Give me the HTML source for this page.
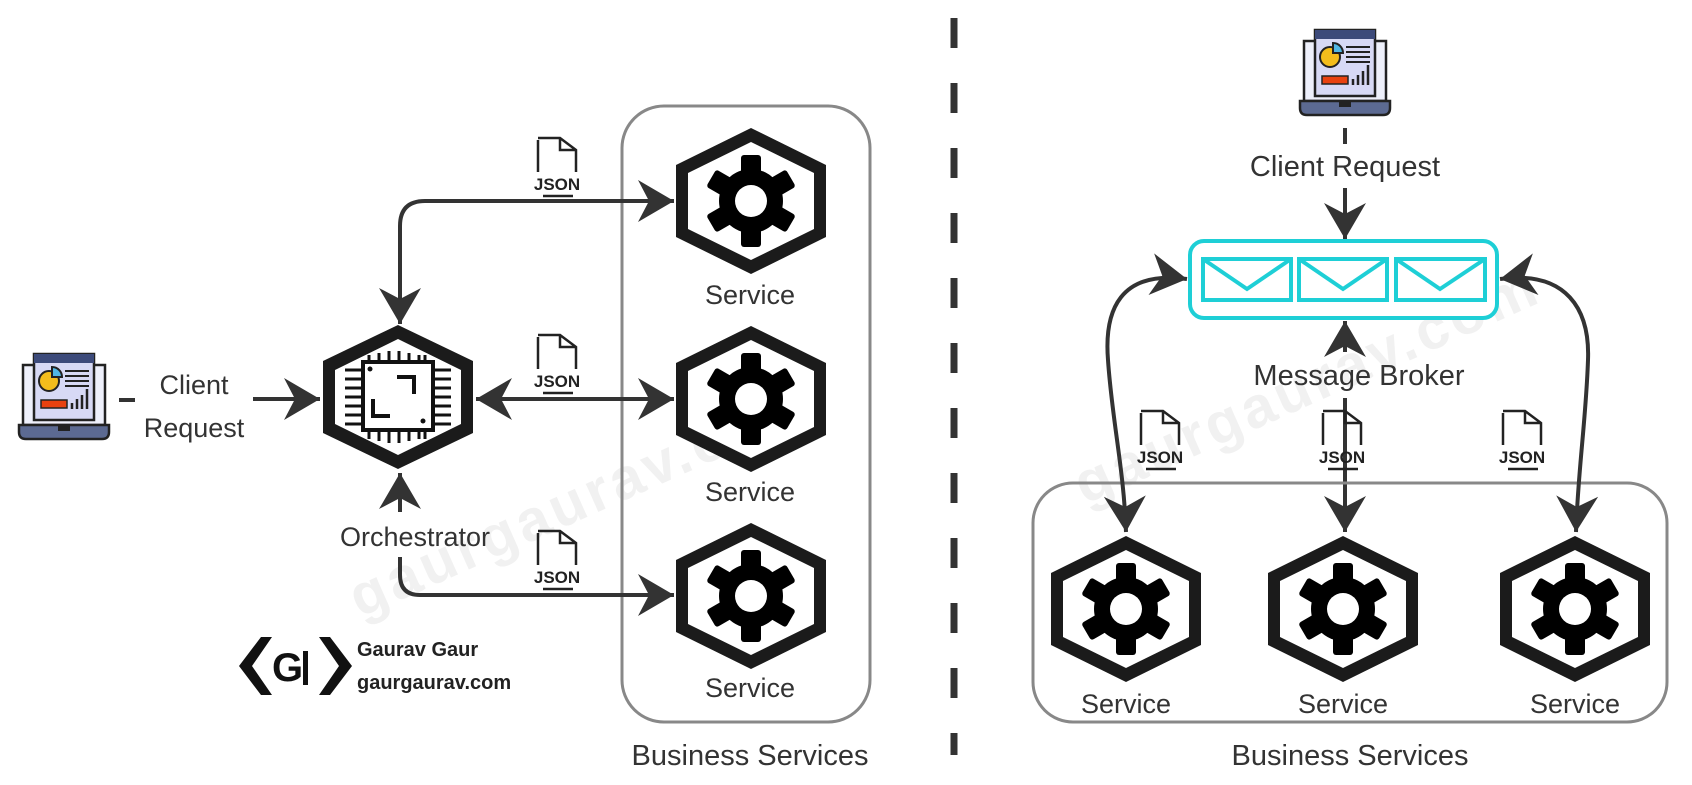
<!DOCTYPE html>
<html><head><meta charset="utf-8"><style>
html,body{margin:0;padding:0;background:#fff;}
svg{display:block;}
text{font-family:"Liberation Sans","DejaVu Sans",sans-serif;fill:#333;}
</style></head><body>
<svg width="1692" height="785" viewBox="0 0 1692 785" xmlns="http://www.w3.org/2000/svg">
<defs>
<marker id="ah" viewBox="-40 -24 42 48" refX="0" refY="0" markerWidth="42" markerHeight="48" markerUnits="userSpaceOnUse" orient="auto-start-reverse">
<path d="M0,0 L-36,-21 L-25,0 L-36,21 Z" fill="#333"/>
</marker>
<g id="hex">
<path d="M0,-73 L75,-36 L75,36 L0,73 L-75,36 L-75,-36 Z" fill="#1b1b1b"/>
<path d="M0,-59 L63,-28 L63,28 L0,59 L-63,28 L-63,-28 Z" fill="#fff"/>
</g>
<g id="gear">
<g fill="#000">
<circle r="32"/>
<rect x="-10" y="-46" width="20" height="20" rx="3"/>
<rect x="-10" y="-46" width="20" height="20" rx="3" transform="rotate(60)"/>
<rect x="-10" y="-46" width="20" height="20" rx="3" transform="rotate(120)"/>
<rect x="-10" y="-46" width="20" height="20" rx="3" transform="rotate(180)"/>
<rect x="-10" y="-46" width="20" height="20" rx="3" transform="rotate(240)"/>
<rect x="-10" y="-46" width="20" height="20" rx="3" transform="rotate(300)"/>
</g>
<circle r="16" fill="#fff"/>
</g>
<g id="svc"><use href="#hex"/><use href="#gear"/></g>
<g id="json">
<path d="M-19,2 L-19,34 M-19,0 L3,0 L19,12 L19,34 M3,0 L3,12 L19,12" fill="none" stroke="#222" stroke-width="2.5"/>
<text x="0" y="52" text-anchor="middle" font-size="17" font-weight="bold" style="fill:#222">JSON</text>
<line x1="-14" y1="58" x2="16" y2="58" stroke="#222" stroke-width="2.5"/>
</g>
<g id="laptop">
<rect x="4" y="12" width="82" height="60" fill="#eef0fb" stroke="#222" stroke-width="2.5"/>
<rect x="15" y="1" width="60" height="66" fill="#d7d9f5" stroke="#222" stroke-width="2.5"/>
<rect x="15" y="1" width="60" height="9" fill="#3c4a7a"/>
<circle cx="30" cy="28" r="10" fill="#f3bd1c" stroke="#222" stroke-width="2"/>
<path d="M33,14 A10,10 0 0 1 43,24 L33,24 Z" fill="#50b7e5" stroke="#222" stroke-width="2"/>
<path d="M46,18 H70 M46,23 H70 M46,28 H70 M46,33 H70" stroke="#222" stroke-width="2"/>
<rect x="22" y="47" width="26" height="8" fill="#e8410f" stroke="#222" stroke-width="1.5"/>
<path d="M53,56 V50 M58,56 V46 M63,56 V42 M68,56 V36" stroke="#222" stroke-width="2.5"/>
<path d="M0,72 H90 V79 Q90,86 83,86 H7 Q0,86 0,79 Z" fill="#5c6a92" stroke="#222" stroke-width="2.5"/>
<rect x="39" y="72" width="12" height="6" fill="#222"/>
</g>
</defs>

<!-- watermark -->
<text x="0" y="0" font-size="58" font-weight="bold" transform="translate(360,618) rotate(-24)" style="fill:#f1f1f1;letter-spacing:4px">gaurgaurav.com</text>
<text x="0" y="0" font-size="58" font-weight="bold" transform="translate(1085,505) rotate(-24)" style="fill:#f1f1f1;letter-spacing:4px">gaurgaurav.com</text>

<!-- divider -->
<line x1="954" y1="18" x2="954" y2="755" stroke="#333" stroke-width="7" stroke-dasharray="30,35"/>

<!-- LEFT -->
<use href="#laptop" x="19" y="353"/>
<line x1="119" y1="400" x2="135" y2="400" stroke="#333" stroke-width="4"/>
<text x="194" y="394" text-anchor="middle" font-size="27">Client</text>
<text x="194" y="437" text-anchor="middle" font-size="27">Request</text>
<line x1="253" y1="399" x2="320" y2="399" stroke="#333" stroke-width="4" marker-end="url(#ah)"/>

<rect x="622" y="106" width="248" height="616" rx="42" fill="none" stroke="#888" stroke-width="3"/>

<!-- orchestrator -->
<g transform="translate(398,397)">
<path d="M0,-72 L75,-36 L75,36 L0,72 L-75,36 L-75,-36 Z" fill="#1b1b1b"/>
<path d="M0,-58 L63,-27 L63,27 L0,58 L-63,27 L-63,-27 Z" fill="#fff"/>
<g stroke="#111" stroke-width="3">
<path d="M-29,-42 V-35 M-19,-44 V-35 M-9,-46 V-35 M1,-46 V-35 M11,-44 V-35 M21,-42 V-35 M27,-42 V-35"/>
<path d="M-29,42 V35 M-19,44 V35 M-9,46 V35 M1,46 V35 M11,44 V35 M21,42 V35 M27,42 V35"/>
<path d="M-53,-27 H-36 M-53,-18 H-36 M-53,-9 H-36 M-53,0 H-36 M-53,9 H-36 M-53,18 H-36 M-53,27 H-36"/>
<path d="M53,-27 H36 M53,-18 H36 M53,-9 H36 M53,0 H36 M53,9 H36 M53,18 H36 M53,27 H36"/>
</g>
<rect x="-35" y="-35" width="70" height="68" fill="#fff" stroke="#111" stroke-width="4"/>
<path d="M-1,-20 H16 V-3 M-25,2 V19 H-8" fill="none" stroke="#111" stroke-width="4"/>
<circle cx="-28" cy="-28" r="2.5" fill="#111"/><circle cx="25" cy="24" r="2.5" fill="#111"/>
</g>
<text x="415" y="546" text-anchor="middle" font-size="27">Orchestrator</text>

<!-- services left -->
<use href="#svc" x="751" y="201"/>
<use href="#svc" x="751" y="399"/>
<use href="#svc" x="751" y="596"/>
<text x="750" y="304" text-anchor="middle" font-size="27">Service</text>
<text x="750" y="501" text-anchor="middle" font-size="27">Service</text>
<text x="750" y="697" text-anchor="middle" font-size="27">Service</text>
<text x="750" y="765" text-anchor="middle" font-size="29">Business Services</text>

<!-- left connectors -->
<path d="M400,324 V226 Q400,201 425,201 H674" fill="none" stroke="#333" stroke-width="4" marker-start="url(#ah)" marker-end="url(#ah)"/>
<path d="M476,399 H674" fill="none" stroke="#333" stroke-width="4" marker-start="url(#ah)" marker-end="url(#ah)"/>
<path d="M400,473 V512" fill="none" stroke="#333" stroke-width="4" marker-start="url(#ah)"/>
<path d="M400,557 V575 Q400,595 420,595 H674" fill="none" stroke="#333" stroke-width="4" marker-end="url(#ah)"/>

<use href="#json" x="557" y="138"/>
<use href="#json" x="557" y="335"/>
<use href="#json" x="557" y="531"/>

<!-- logo -->
<g transform="translate(239,635)">
<path d="M22,2 L0,31 L22,60 L33,60 L13,31 L33,2 Z" fill="#111"/>
<path d="M91,2 L113,31 L91,60 L80,60 L100,31 L80,2 Z" fill="#111"/>
<text x="33" y="46" font-size="40" font-weight="bold" style="fill:#111">G</text>
<rect x="64" y="16" width="5" height="34" fill="#111"/>
</g>
<text x="357" y="656" font-size="20" font-weight="bold" style="fill:#222">Gaurav Gaur</text>
<text x="357" y="689" font-size="20" font-weight="bold" style="fill:#222">gaurgaurav.com</text>

<!-- RIGHT -->
<use href="#laptop" x="1300" y="29"/>
<line x1="1345" y1="128" x2="1345" y2="144" stroke="#333" stroke-width="4"/>
<text x="1345" y="176" text-anchor="middle" font-size="29">Client Request</text>
<line x1="1345" y1="188" x2="1345" y2="239" stroke="#333" stroke-width="4" marker-end="url(#ah)"/>

<rect x="1190" y="241" width="307" height="77" rx="14" fill="#fff" stroke="#1ecfd6" stroke-width="4"/>
<g fill="none" stroke="#1ecfd6" stroke-width="4">
<rect x="1203" y="259" width="88" height="41"/><path d="M1203,259 L1247,289 L1291,259"/>
<rect x="1299" y="259" width="88" height="41"/><path d="M1299,259 L1343,289 L1387,259"/>
<rect x="1396" y="259" width="89" height="41"/><path d="M1396,259 L1440,289 L1485,259"/>
</g>
<path d="M1345,352 V321" fill="none" stroke="#333" stroke-width="4" marker-end="url(#ah)"/>
<text x="1359" y="385" text-anchor="middle" font-size="29">Message Broker</text>
<path d="M1345,398 V532" fill="none" stroke="#333" stroke-width="4" marker-end="url(#ah)"/>

<rect x="1033" y="483" width="634" height="239" rx="40" fill="none" stroke="#888" stroke-width="3"/>

<path d="M1187,279 C1120,270 1104,310 1108,360 C1112,420 1124,470 1126,532" fill="none" stroke="#333" stroke-width="4" marker-start="url(#ah)" marker-end="url(#ah)"/>
<path d="M1500,279 C1567,270 1590,310 1588,360 C1586,420 1578,470 1576,532" fill="none" stroke="#333" stroke-width="4" marker-start="url(#ah)" marker-end="url(#ah)"/>

<use href="#json" x="1160" y="411"/>
<use href="#json" x="1342" y="411"/>
<use href="#json" x="1522" y="411"/>

<use href="#svc" x="1126" y="609"/>
<use href="#svc" x="1343" y="609"/>
<use href="#svc" x="1575" y="609"/>
<text x="1126" y="713" text-anchor="middle" font-size="27">Service</text>
<text x="1343" y="713" text-anchor="middle" font-size="27">Service</text>
<text x="1575" y="713" text-anchor="middle" font-size="27">Service</text>
<text x="1350" y="765" text-anchor="middle" font-size="29">Business Services</text>
</svg>
</body></html>
